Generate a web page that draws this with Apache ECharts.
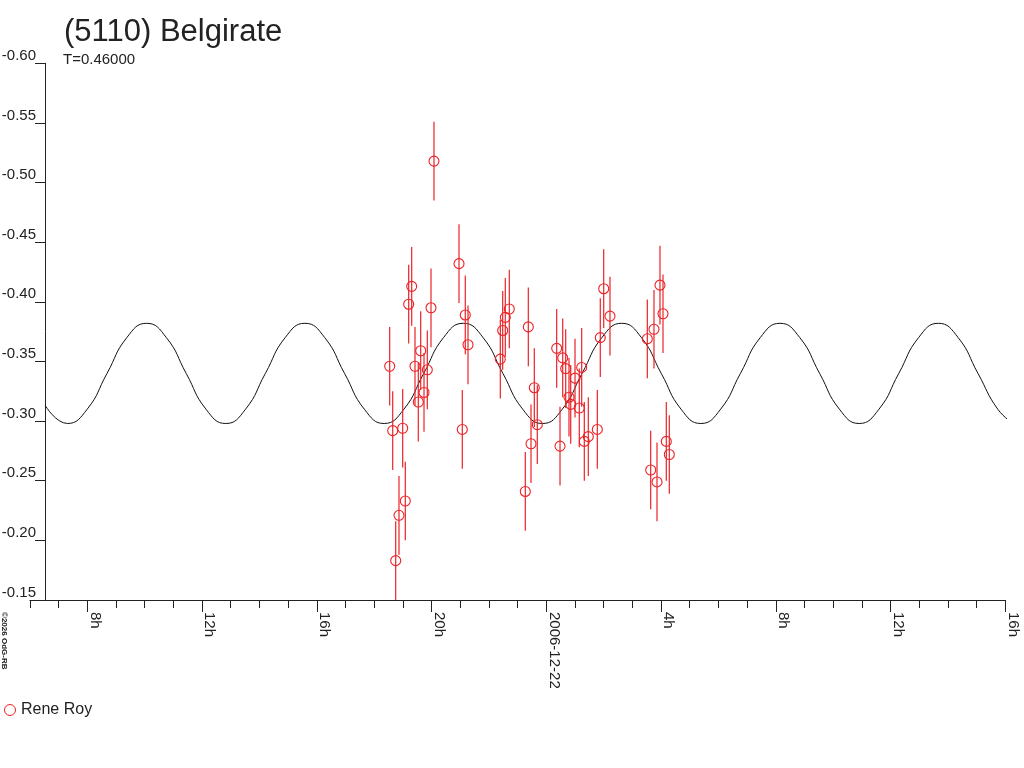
<!DOCTYPE html>
<html>
<head>
<meta charset="utf-8">
<script src="https://cdn.jsdelivr.net/npm/echarts@6/dist/echarts.min.js"></script>
<style>
html,body{margin:0;padding:0;background:#fff;}
#chart{width:1024px;height:768px;}
</style>
</head>
<body>
<div id="chart"></div>
<script>
// ---- data (hours since 2006-12-21 00:00 UT, relative magnitude) ----
const obsTimes = [18.541, 18.646, 18.750, 18.865, 18.994, 19.085, 19.203, 19.308, 19.423, 19.622,
  19.538, 19.737, 19.852, 19.981, 20.085, 20.957, 21.072, 21.176, 21.271, 22.397,
  22.480, 22.571, 22.710, 23.268, 23.373, 23.467, 23.582, 23.686, 24.362, 24.478,
  24.572, 24.676, 24.791, 24.851, 25.001, 25.150, 25.234, 25.325, 25.464, 25.778,
  25.882, 26.001, 26.220, 27.521, 27.639, 27.754, 27.859, 27.963, 28.068, 28.183,
  28.288];
const obsMags = [-0.346, -0.292, -0.183, -0.221, -0.294, -0.233, -0.398, -0.413, -0.346, -0.359,
  -0.316, -0.324, -0.343, -0.395, -0.518, -0.432, -0.293, -0.389, -0.364, -0.352,
  -0.376, -0.387, -0.394, -0.241, -0.379, -0.281, -0.328, -0.297, -0.361, -0.279,
  -0.353, -0.344, -0.320, -0.314, -0.336, -0.311, -0.345, -0.283, -0.287, -0.293,
  -0.370, -0.411, -0.388, -0.369, -0.259, -0.377, -0.249, -0.414, -0.390, -0.283,
  -0.272];
const obsErr = 0.033;

// model curve
const curveTimes = [6.536, 7.307, 7.997, 8.687, 9.377, 10.067, 10.757, 11.447, 12.137, 12.827,
  13.517, 14.207, 14.897, 15.587, 16.277, 16.967, 17.657, 18.347, 19.037, 19.727,
  20.417, 21.107, 21.797, 22.487, 23.177, 23.867, 24.557, 25.247, 25.937, 26.627,
  27.317, 28.007, 28.697, 29.387, 30.077, 30.767, 31.457, 32.147, 32.837, 33.527,
  34.217, 34.907, 35.597, 36.287, 36.977, 37.667, 38.357, 39.047, 39.737, 40.280];
const curveMags = [-0.313, -0.298, -0.310, -0.340, -0.370, -0.382, -0.370, -0.340, -0.310, -0.298,
  -0.310, -0.340, -0.370, -0.382, -0.370, -0.340, -0.310, -0.298, -0.310, -0.340,
  -0.370, -0.382, -0.370, -0.340, -0.310, -0.298, -0.310, -0.340, -0.370, -0.382,
  -0.370, -0.340, -0.310, -0.298, -0.310, -0.340, -0.370, -0.382, -0.370, -0.340,
  -0.310, -0.298, -0.310, -0.340, -0.370, -0.382, -0.370, -0.340, -0.310, -0.298];

const tickHours = [8, 12, 16, 20, 24, 28, 32, 36, 40];
const tickLabels = ['8h', '12h', '16h', '20h', '2006-12-22', '4h', '8h', '12h', '16h'];

const titleText = '(5110) Belgirate';
const subText = 'T=0.46000';
const observer = 'Rene Roy';
const credit = '\u00A92026 OdG-RB';

const Y_MIN = -0.60, Y_MAX = -0.15;
const RED = '#ec2227';
const FONT = '"Liberation Sans", Arial, sans-serif';
const INK = '#222';

const chart = echarts.init(document.getElementById('chart'), null, {renderer: 'canvas'});

const obsData = obsTimes.map((t, i) => [t, obsMags[i], obsErr]);
const curveData = curveTimes.map((t, i) => [t, curveMags[i]]);

const PX_PER_H = 28.6875;
const gridTop = 63.3, gridBottom = 168, gridRight = 18.7;
const grid0Left = 87.3 - 2 * PX_PER_H;   // x=6h
const grid1Left = 87.3 - 4 * PX_PER_H;   // x=4h

const option = {
  animation: false,
  backgroundColor: '#fff',
  textStyle: {fontFamily: FONT},
  grid: [
    {left: grid0Left, right: gridRight, top: gridTop, bottom: gridBottom, containLabel: false, outerBoundsMode: 'none'},
    {left: grid1Left, right: gridRight, top: gridTop, bottom: gridBottom, containLabel: false, outerBoundsMode: 'none'}
  ],
  xAxis: [
    {
      gridIndex: 0, type: 'value', min: 6, max: 40, interval: 1,
      axisLine: {show: true, onZero: false, lineStyle: {color: INK, width: 1}},
      axisTick: {show: true, length: 8, lineStyle: {color: INK, width: 1}},
      axisLabel: {show: false},
      splitLine: {show: false}
    },
    {
      gridIndex: 1, type: 'value', min: 4, max: 40, interval: 4,
      axisLine: {show: false, onZero: false},
      axisTick: {show: true, length: 12, lineStyle: {color: INK, width: 1}},
      axisLabel: {
        show: true, rotate: -90, margin: 12, verticalAlign: 'bottom',
        fontSize: 15, fontFamily: FONT, color: INK,
        formatter: function (v) {
          const i = tickHours.indexOf(Math.round(v));
          return i >= 0 ? tickLabels[i] : '';
        }
      },
      splitLine: {show: false}
    }
  ],
  yAxis: [
    {
      gridIndex: 0, type: 'value', inverse: true, min: Y_MIN, max: Y_MAX, interval: 0.05,
      offset: -(45 - grid0Left),
      axisLine: {show: true, onZero: false, lineStyle: {color: INK, width: 1}},
      axisTick: {show: true, length: 10, lineStyle: {color: INK, width: 1}},
      axisLabel: {
        show: true, margin: 9, verticalAlign: 'bottom', fontSize: 15, fontFamily: FONT, color: INK,
        formatter: function (v) { return v.toFixed(2); }
      },
      splitLine: {show: false}
    },
    {gridIndex: 1, type: 'value', show: false, min: 0, max: 1}
  ],
  legend: {
    left: 4, top: 702, padding: 0,
    itemWidth: 12, itemHeight: 11, itemGap: 10,
    textStyle: {fontSize: 16, fontFamily: FONT, color: INK},
    data: [{name: observer, icon: 'circle',
      itemStyle: {color: 'rgba(0,0,0,0)', borderColor: RED, borderWidth: 1}}]
  },
  graphic: [
    {type: 'text', left: 64, top: 17, style: {text: titleText, font: '31px ' + FONT, fill: INK}},
    {type: 'text', left: 63, top: 52, style: {text: subText, font: '15px ' + FONT, fill: INK}},
    {type: 'text', x: 0, y: 612, rotation: -Math.PI / 2,
      style: {text: credit, font: 'bold 8px ' + FONT, fill: INK, align: 'left', verticalAlign: 'bottom',
        textAlign: 'left', textVerticalAlign: 'bottom'}}
  ],
  series: [
    {
      name: 'model', type: 'line', xAxisIndex: 0, yAxisIndex: 0,
      data: curveData, smooth: 0.5, symbol: 'none', clip: false, silent: true,
      lineStyle: {color: '#111', width: 1}, z: 2
    },
    {
      name: observer, type: 'custom', xAxisIndex: 0, yAxisIndex: 0,
      data: obsData, encode: {x: 0, y: 1}, z: 3,
      itemStyle: {color: RED},
      renderItem: function (params, api) {
        const t = api.value(0), m = api.value(1), e = api.value(2);
        const lo = Math.max(m - e, Y_MIN), hi = Math.min(m + e, Y_MAX);
        const p1 = api.coord([t, lo]);
        const p2 = api.coord([t, hi]);
        const c = api.coord([t, m]);
        return {
          type: 'group',
          children: [
            {type: 'line', shape: {x1: p1[0], y1: p1[1], x2: p2[0], y2: p2[1]},
              style: {stroke: RED, lineWidth: 1.2}},
            {type: 'circle', shape: {cx: c[0], cy: c[1], r: 5},
              style: {fill: null, stroke: RED, lineWidth: 1.1}}
          ]
        };
      }
    }
  ]
};
chart.setOption(option);
</script>
</body>
</html>
